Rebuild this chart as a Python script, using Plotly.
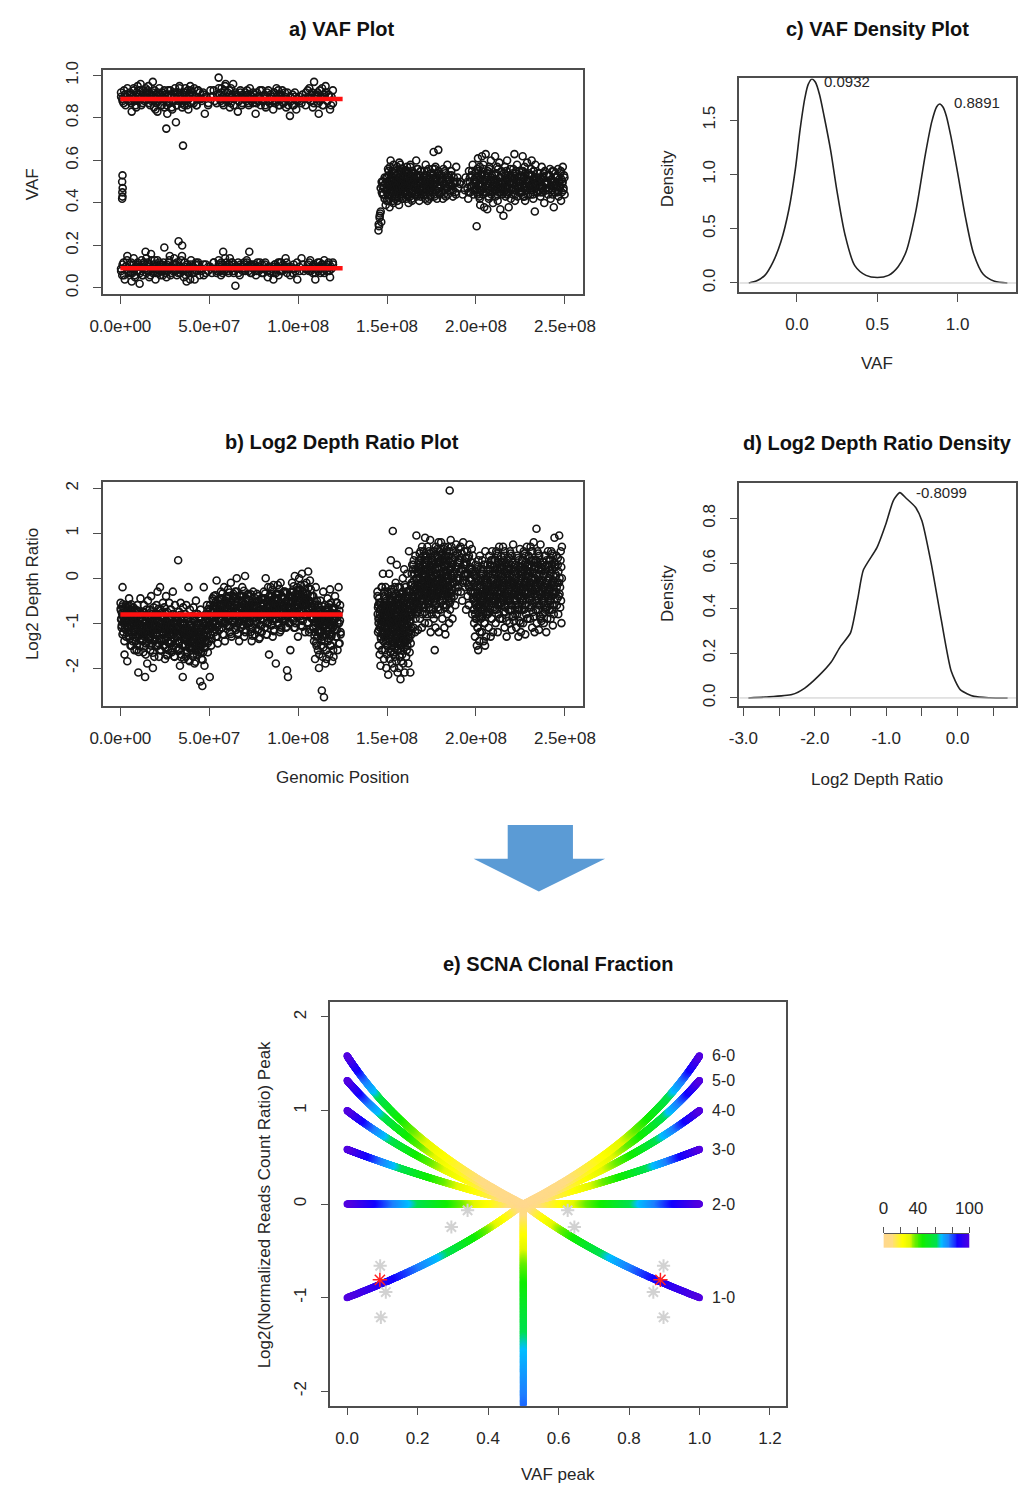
import numpy as np
import plotly.graph_objects as go

W, H = 1031, 1491
FONT = "Liberation Sans, Arial, Helvetica, sans-serif"
TXT = "#262626"

# ------------------------------------------------------------------ data
# a) VAF plot : VAF*100 values read per 5-Mb bin (two passes of reading)
VAF_BIN_MB = 5
VAF_UPPER_START_MB = 0
VAF_UPPER = [
    "92 89 87 91 90 94 88", "91 88 83 90 93 89 86 92 95", "89 93 96 90 87 92 88 94 91",
    "90 95 92 86 89 91 97 88 93 84", "91 83 88 94 90 86 92 89 85", "89 75 82 91 87 93 90 84 88",
    "90 94 78 86 92 88 95 91 89 85", "67 92 88 94 90 86 93 89 91 95 87", "91 88 94 90 86 93 89 92",
    "89 92 82 90 87", "93 90 88 91", "99 91 88 94 90 86 93 96 89", "92 88 85 94 90 96 89 91",
    "90 83 88 93 86 91 89", "92 88 91 86 94 89 90 87", "89 82 92 88 90 86 93",
    "88 91 85 90 93 87 89", "90 84 92 88 94 89 86 91", "89 93 87 90 85 92 88",
    "81 88 91 86 90 84 89", "90 87 89 92", "93 89 88 91 85 97 90", "89 92 82 88 90 94 86 91",
    "95 88 91 84 90 87",
]
VAF_UPPER_B = [
    "90 88 93 86 91 89", "92 87 90 94 88 85 91", "88 91 86 93 90 89 92", "93 87 90 88 92 85 89",
    "87 92 89 91 86 90 93", "91 86 93 88 90 85 92", "88 92 86 90 94 89 87", "90 86 92 88 84 91 93",
    "92 87 90 86 93 89", "88 91 90 86", "90 93 87", "94 89 92 87 90 95 88", "89 93 87 91 86 92",
    "91 88 92 87 90", "89 93 87 91 88 92", "91 87 90 93 88", "90 86 92 88 91", "88 92 87 90 93 86",
    "91 87 92 89 86", "90 86 92 88", "88 91 86", "90 94 88 92 87 91", "91 87 93 89 86 90",
    "92 88 90 86 93",
]
VAF_LOWER = [
    "9 6 12 4 10 15 8", "11 7 3 9 14 6 10 8 12", "10 2 8 13 6 11 9 17 7",
    "12 8 5 10 16 9 7 11 13 4", "9 13 7 11 6 10 8 12 19", "10 5 8 12 15 7 9 11",
    "14 8 11 6 10 22 9 7 13 20", "9 5 12 8 3 11 7 10 4 13", "7 10 4 12 8 11 6", "9 6 11 8",
    "10 7 12 9 8", "13 9 6 11 17 8 10 12", "10 7 14 9 12 8 11 1", "9 12 6 10 8 11",
    "8 13 10 17 7 11 9", "10 6 12 8 9 11", "7 11 9 5 10 8", "9 4 11 7 10 6 12",
    "12 8 10 14 7 9", "6 9 11 8 4", "10 14 8 9", "11 8 13 9 7 10 4", "9 12 10 7 11 8 13",
    "10 8 12 5 9 11",
]
VAF_LOWER_B = [
    "8 11 6 10 13 7", "9 12 7 11 5 10 8", "11 7 10 6 12 9 14", "8 11 6 13 9 10 7",
    "10 7 12 8 11 6 9", "7 11 9 13 6 10 8", "11 8 12 7 10 9 15", "8 12 6 10 9 7 11",
    "10 7 11 8 12 9", "8 11 7 10", "9 12 7", "11 8 12 7 10 14 9", "8 11 9 12 7 10",
    "10 7 11 9 12", "9 12 8 11 7 10", "11 8 10 12 7", "9 12 8 10 7", "10 7 11 9 12 8",
    "8 11 9 12 10", "10 7 9 12", "8 11 9", "9 12 8 10 11 7", "10 8 12 9 11 7", "9 11 8 10 12",
]
VAF_HET_START_MB = 145
VAF_HET = [
    "27 29 33 35 36 31 45 48 50 44 47 42 49 39 52 46",
    "50 44 56 41 48 53 38 47 51 60 45 49 43 55 52 46 40 58 49 47 54 42 50 44",
    "48 53 45 57 41 50 46 52 39 55 49 44 58 47 51 43 54 48 42 56 50 45 52 47 49",
    "51 46 55 42 49 57 44 52 48 40 54 47 50 43 58 45 53 49 41 55 46 51 48",
    "49 54 44 51 47 60 43 52 48 56 45 50 41 53 47 55 49 44 51 46",
    "47 52 44 55 49 42 58 50 46 53 41 48 56 45 51 49 43 54 47",
    "50 45 56 48 64 52 43 49 57 46 51 42 54 48 65 47 53 44 50",
    "48 53 45 51 42 56 49 46 54 43 50 47 58 44 52 49",
    "51 46 55 48 43 52 49 45 57 50 47",
    "49 44 52",
    "47 42 55 50 45 53 48 58 44 51 46 54",
    "50 29 56 45 61 48 52 43 57 39 49 54 46 62 51 44 58 47 38 53",
    "48 63 45 52 37 55 49 42 57 46 51 60 44 53 47 40 50",
    "51 46 62 43 54 48 57 41 50 45 59 52 37 47 55 49 44",
    "49 34 54 46 57 43 51 48 60 45 53 38 50 47 56 42 52",
    "47 52 44 56 49 63 41 54 46 51 58 43 50 48 55 45 53",
    "50 45 55 48 62 43 52 47 57 41 54 49 46 59 51 44 53 48",
    "48 53 44 56 60 46 51 42 55 49 36 58 47 52 45 50 54",
    "51 46 54 43 50 57 48 45 52 40 55 49 47 53",
    "49 44 53 47 56 42 51 46 55 48 38 50 45 52",
    "48 52 45 56 43 50 47 54 41 51 49 57 46 53 44",
]
VAF_HET_B = [
    "30 34 47 50 44 48 52 46 41",
    "52 47 44 55 49 42 57 46 51 48 53 45 50 41 56 49 47 54 43 51",
    "46 51 48 43 54 50 45 59 47 52 44 49 56 42 50 47 53 45 48 55",
    "49 44 52 47 55 50 43 48 53 46 51 57 45 49 42 54 48 50 46",
    "51 48 45 53 49 56 44 50 47 52 43 55 48 46",
    "50 46 53 48 44 51 55 47 49 42 52 46 50",
    "47 53 49 44 56 50 46 52 48 55 45 51",
    "52 46 50 44 55 48 51 47 53",
    "48 53 46 50 44 52",
    "50 46",
    "50 45 52 48 55 46 51 49",
    "47 52 44 55 49 42 51 46 53 48 56 45 50",
    "51 45 54 48 43 56 50 47 52 45 49",
    "48 53 46 51 44 56 49 45 52 50 47",
    "50 45 53 48 55 44 51 47 52 49 46",
    "49 54 46 51 44 55 48 52 47 50 45",
    "47 52 45 55 49 43 53 48 51 46 50 54",
    "50 46 53 48 44 55 51 47 49 52 45",
    "48 52 45 51 47 54 49 46 50",
    "50 46 53 48 51 44 55 47 49",
    "49 53 46 51 48 55 45 50 47 52",
]
VAF_EDGE_POS_MB = [1.0, 1.2, 1.1, 1.3, 1.0, 1.2]
VAF_EDGE_VAL = [0.42, 0.43, 0.45, 0.47, 0.50, 0.53]

LOH_SEGMENT_MB = [0, 125]
VAF_PEAKS = [0.0932, 0.8891]
DEPTH_PEAK = -0.8099

# b) log2 depth ratio (*100) read per bin (two passes of reading)
DEPTH_LEFT_START_MB = 0
DEPTH_LEFT_BIN_MB = 4
DEPTH_LEFT = [
    "-55 -72 -90 -105 -63 -20 -85 -120 -95 -70 -170 -110 -80 -60 -130 -98 -75 -185",
    "-80 -62 -110 -95 -45 -130 -70 -88 -150 -105 -58 -120 -90 -75 -140 -100 -65 -115 -85 -160",
    "-95 -120 -70 -140 -85 -160 -110 -60 -130 -100 -210 -75 -125 -90 -150 -115 -45 -135 -105 -80",
    "-110 -75 -140 -95 -165 -120 -60 -130 -100 -220 -85 -145 -115 -70 -125 -190 -105 -50 -135 -90",
    "-100 -130 -70 -115 -160 -90 -40 -120 -145 -80 -105 -200 -125 -65 -110 -175 -95 -135 -85 -150",
    "-90 -60 -125 -105 -30 -150 -80 -115 -175 -95 -135 -20 -110 -70 -160 -100 -140 -85 -120 -55",
    "-120 -85 -150 -65 -105 -180 -95 -135 -40 -115 -170 -75 -130 -100 -160 -90 -125 -55 -110 -145",
    "-105 -140 -70 -125 -165 -90 -115 -30 -150 -80 -135 -100 -175 -60 -120 -95 -155 -110 -85 -130",
    "-90 -130 40 -110 -160 -75 -140 -195 -100 -55 -125 -170 -85 -150 -115 -220 -65 -135 -105 -180",
    "-100 -150 -80 -125 -175 -60 -140 -110 -165 -90 -130 -20 -155 -115 -185 -70 -145 -105 -160 -120",
    "-110 -155 -85 -135 -175 -65 -145 -120 -190 -95 -160 -130 -50 -150 -105 -170 -140 -80 -125 -165",
    "-120 -160 -90 -140 -230 -70 -150 -110 -180 -135 -240 -100 -165 -125 -20 -145 -195 -85 -155 -115",
    "-95 -130 -60 -115 -165 -80 -140 -105 -220 -70 -125 -150 -90 -110 -45",
    "-70 -100 -40 -85 -120 -55 -95 -130 -65 -5 -110 -80 -145 -50 -90 -75 -115 -60",
    "-60 -90 -30 -75 -110 -45 -85 -125 -55 -100 -20 -70 -140 -95 -50 -80 -65 -105",
    "-55 -85 -25 -70 -105 -40 -90 -120 -60 -10 -75 -130 -50 -95 -65 -80 -35 -100",
    "-60 -95 -30 -75 -115 -45 0 -85 -125 -55 -100 -70 -140 -40 -90 -65 -110 -80",
    "-50 -85 -20 -70 -105 -40 -95 -130 -60 5 -80 -115 -45 -90 -65 -100 -75 -35",
    "-65 -100 -40 -85 -120 -55 -140 -75 -110 -30 -90 -60 -125 -80",
    "-60 -95 -35 -80 -115 -50 -135 -70 -105 -90 -45 -120 -75",
    "-55 -90 -30 -75 -110 -45 0 -85 -125 -65 -100 -20 -80 -170 -60",
    "-50 -85 -20 -70 -105 -40 -95 -130 -60 -15 -80 -115 -45 -90 -65 -190 -75 -35",
    "-45 -80 -15 -65 -100 -35 -90 -120 -55 -10 -75 -110 -40 -85 -60 -95 -70 -30",
    "-60 -95 -30 -75 -110 -50 -205 -85 -220 -65 -100 -40 -80 -160 -55",
    "-40 -70 -10 -55 -90 -30 -75 -110 -45 5 -65 -100 -35 -80 -50 -20 -60 -130",
    "-35 -65 0 -50 -85 -25 -70 -105 -40 10 -60 -95 -30 -75 -45 -15 -55 -120",
    "-45 -80 -10 -60 -100 -35 15 -70 -120 -50 -5 -85 -25 -65 -90 -40",
    "-70 -110 -40 -90 -140 -60 -120 -180 -80 -20 -100 -150 -50 -130 -95 -160 -75 -115 -200 -85",
    "-80 -120 -50 -100 -150 -70 -250 -130 -175 -90 -30 -110 -265 -140 -60 -105 -190 -85 -125 -160",
    "-75 -115 -45 -95 -140 -65 -125 -170 -85 -25 -105 -150 -55 -130 -90 -185 -70 -110 -160 -100",
    "-70 -105 -40 -90 -130 -55 -115 -160 -80 -20 -100 -145 -60 -125",
]
DEPTH_LEFT_B = [
    "-68 -92 -110 -78 -125 -58 -100 -84 -140 -72 -96 -115 -88 -66 -105",
    "-74 -98 -120 -86 -135 -62 -108 -92 -150 -80 -102 -126 -94 -70 -112",
    "-84 -108 -132 -96 -148 -72 -118 -102 -164 -90 -112 -138 -104 -80 -122",
    "-88 -112 -136 -100 -152 -76 -122 -106 -170 -94 -116 -142 -108 -84 -126",
    "-86 -110 -134 -98 -150 -74 -120 -104 -166 -92 -114 -140 -106 -82 -124",
    "-80 -104 -128 -92 -144 -68 -114 -98 -160 -86 -108 -134 -100 -76 -118",
    "-90 -114 -138 -102 -154 -78 -124 -108 -172 -96 -118 -144 -110 -86 -128",
    "-92 -116 -140 -104 -156 -80 -126 -110 -174 -98 -120 -146 -112 -88 -130",
    "-94 -118 -142 -106 -158 -82 -128 -112 -176 -100 -122 -148 -114 -90 -132",
    "-100 -124 -148 -112 -164 -88 -134 -118 -182 -106 -128 -154 -120 -96 -138",
    "-104 -128 -152 -116 -168 -92 -138 -122 -186 -110 -132 -158 -124 -100 -142",
    "-100 -124 -148 -112 -164 -88 -134 -118 -182 -106 -128 -154 -120 -96 -138",
    "-80 -104 -128 -92 -144 -68 -114 -98 -60 -86 -108 -134 -100 -76",
    "-50 -74 -98 -62 -114 -38 -84 -68 -130 -56 -78 -104 -70 -46 -88",
    "-46 -70 -94 -58 -110 -34 -80 -64 -126 -52 -74 -100 -66 -42 -84",
    "-44 -68 -92 -56 -108 -32 -78 -62 -124 -50 -72 -98 -64 -40 -82",
    "-42 -66 -90 -54 -106 -30 -76 -60 -122 -48 -70 -96 -62 -38 -80",
    "-40 -64 -88 -52 -104 -28 -74 -58 -120 -46 -68 -94 -60 -36 -78",
    "-48 -72 -96 -60 -112 -36 -82 -66 -128 -54 -76 -102 -68 -44 -86",
    "-52 -76 -100 -64 -116 -40 -86 -70 -132 -58 -80 -106 -72 -48",
    "-46 -70 -94 -58 -110 -34 -80 -64 -126 -52 -74 -100 -66 -42 -84",
    "-38 -62 -86 -50 -102 -26 -72 -56 -118 -44 -66 -92 -58 -34 -76",
    "-36 -60 -84 -48 -100 -24 -70 -54 -116 -42 -64 -90 -56 -32 -74",
    "-44 -68 -92 -56 -108 -32 -78 -62 -50 -72 -98 -64 -40",
    "-30 -54 -78 -42 -94 -18 -64 -48 -110 -36 -58 -84 -50 -26 -68",
    "-28 -52 -76 -40 -92 -16 -62 -46 -108 -34 -56 -82 -48 -24",
    "-34 -58 -82 -46 -98 -22 -68 -52 -114 -40 -62 -88 -54",
    "-64 -88 -112 -76 -128 -52 -98 -82 -144 -70 -92 -118 -84 -60 -102 -170",
    "-74 -98 -122 -86 -138 -62 -108 -92 -154 -80 -102 -128 -94 -70 -112 -180",
    "-70 -94 -118 -82 -134 -58 -104 -88 -150 -76 -98 -124 -90 -66 -108 -175",
    "-66 -90 -114 -78 -130 -54 -100 -84 -146 -72 -94 -120",
]
DEPTH_RIGHT_START_MB = 144.5
DEPTH_RIGHT_BIN_MB = 3.85
DEPTH_RIGHT = [
    "-30 -80 -120 -60 -100 -150 -45 -90 -170 -70 -110 -195 -55 -135 -85 -20 -160 -105 -65 -125 10 -95 -140 -75 -180",
    "-40 -90 -130 -60 -110 -160 -20 -80 -140 -200 -50 -100 -170 -70 -120 -30 -150 -85 -215 -110 -60 -135 10 -95 -180 -45 -125 -75 -165 -105 40",
    "-50 -100 -150 -30 -90 -140 -190 -70 -120 105 -60 -110 -170 -40 -95 -145 -200 -80 -125 -20 -175 -65 -115 -155 -10 -85 -135 -185 -55 -105 30 -160 -75 -130 -210 -45",
    "-60 -110 -160 -40 -90 -140 -200 -70 -120 -175 -20 -100 -150 -225 -80 -130 -55 -185 -105 -35 -145 -95 -170 -65 -125 0 -115 -190 -85 -155 -45 -135 20 -75 -210",
    "-50 -100 -140 -20 -80 -130 -175 -60 -110 -160 10 -90 -150 -40 -120 -70 -190 -105 -30 60 -135 -85 -165 -55 -115 -210 -95 -145 -15 -75 -125",
    "-10 -50 30 -80 -30 20 -60 -110 40 -20 -70 10 -40 -120 50 -90 0 -55 95 -25 -75 15 -45 -65 -115 25",
    "0 -40 40 -70 -20 30 -90 -50 60 -10 -30 20 -60 -110 70 -15 -80 10 -45 50 -25 -5 -65 35 -35 -100 90",
    "10 -30 50 -60 -10 30 -80 -40 70 0 -20 40 -50 -100 60 -5 -70 20 -35 85 -15 -120 25 -45 5 45 -25",
    "0 -40 40 -70 -20 30 -90 -50 60 -10 -160 20 -60 -110 70 -15 -80 10 -45 50 -25 -5 -65 35 -35 80 -120",
    "20 -20 60 -50 0 40 -70 -30 80 10 -10 50 -40 -90 30 -5 -60 15 -25 65 -15 -110 45 -35 25 -125 5",
    "10 -30 50 -60 -10 30 -80 -40 70 0 -20 40 -50 -100 60 195 -70 20 -35 85 -15 25 -45 5 45 -25 -90",
    "30 -10 60 -40 10 45 -60 -20 75 20 0 55 -30 35 -5 65 15",
    "40 0 70 -30 20 55 -50 -10 80 30 10 60 -20 45 5 -70",
    "30 -10 60 -40 10 45 -60 -20 75 20 0 -30 35 -5 65 -80 15 50",
    "-30 -70 10 -100 -50 -10 -130 -80 30 -40 -60 0 -90 -150 20 -20 -110 -45 -160 40 -65 -5 -140 -85 50",
    "-20 -60 20 -90 -40 0 -120 -70 40 -30 -50 10 -80 -140 30 -10 -100 -35 -150 60 -55 5 -130 -75 -25",
    "-10 -50 30 -80 -30 10 -110 -60 50 -20 -40 20 -70 -130 40 -5 -90 -25 60 -45 15 -120 -65 -15",
    "0 -40 40 -70 -20 20 -100 -50 60 -10 -30 30 -60 -120 50 5 -80 -15 70 -35 25 -90 -55",
    "10 -30 50 -60 -10 30 -90 -40 70 0 -20 40 -50 -110 60 15 -75 -5 -35 35 -130 -45 20",
    "0 -40 40 -70 -20 20 -100 -50 60 -10 -30 30 -60 -115 50 5 -85 -15 75 -35 25 -95",
    "-10 -50 30 -80 -30 10 -110 -60 50 -20 -40 20 -70 -130 40 -5 -95 -25 65 -45 15 -120",
    "0 -40 40 -70 -20 20 -100 -50 60 -10 -30 30 -60 -125 50 5 -80 -15 70 -35 25 -90",
    "10 -30 50 -60 -10 30 -90 -40 70 0 -20 40 -50 -110 60 15 -75 -5 80 -35 35 -120",
    "0 -40 40 -70 -20 110 -100 -50 60 -10 -30 30 -60 -115 50 5 -85 -15 75 -35 25 -95",
    "-10 -50 30 -80 -30 10 -100 -60 50 -20 -40 20 -70 -120 40 -5 -90 -25 60 -45",
    "0 -40 40 -70 -20 20 -90 -50 60 -10 -30 30 -60 -105 50 5 -80 -15 90 -35 25",
    "10 -30 50 -60 -10 30 -80 -40 95 0 -20 40 -50 -100 70",
]
DEPTH_RIGHT_B = [
    "-40 -65 -90 -115 -55 -80 -105 -130 -70 -95 -20 -120 -85 -60 -110",
    "-30 -55 -80 -105 -130 -45 -70 -95 -120 -150 -60 -85 -110 -140 -35 -75 -100 -125 -50 -90 -115 -65",
    "-25 -50 -75 -100 -125 -150 -40 -65 -90 -115 -140 -165 -55 -80 -105 -130 -35 -70 -95 -120 -145 -60 -85 -110",
    "-20 -45 -70 -95 -120 -145 -35 -60 -85 -110 -135 -160 -50 -75 -100 -125 -30 -65 -90 -115 -140 -55 -80 -105",
    "-15 -40 -65 -90 -115 -140 -30 -55 -80 -105 -130 -45 -70 -95 -120 -25 -60 -85 -110 -50",
    "10 -15 -40 -65 30 -5 -30 -55 -80 20 -25 -50 0 -35 -60 15",
    "35 10 -15 -40 55 25 0 -25 -50 45 15 -10 -35 -60 30 5 -20 -45 60 20 -5 -30 -75 40",
    "30 5 -20 -45 50 20 -5 -30 -55 40 10 -15 -40 -65 25 0 -25 -50 55 15 -10 -35 -80 35",
    "40 15 -10 -35 60 30 5 -20 -45 50 20 -5 -30 -55 35 10 -15 -40 65 25 0 -25 -70 45",
    "45 20 -5 -30 65 35 10 -15 -40 55 25 0 -25 -50 40 15 -10 -35 70 30 5 -20 -65 50",
    "40 15 -10 -35 60 30 5 -20 -45 50 20 -5 -30 -55 35 10 -15 -40 70 25 0 -25",
    "40 15 -10 50 25 0 -20 35",
    "45 20 -5 30 10",
    "35 10 -15 50 25 0 -30 20 -45",
    "-20 -45 -70 5 -30 -55 -90 15 -10 -40 -65 -110 25 -5 -35 -60 -85 -120",
    "-15 -40 -65 10 -25 -50 -85 20 -5 -35 -60 -100 30 0 -30 -55 -80",
    "-5 -30 -55 20 -15 -40 -75 30 5 -25 -50 -90 40 10 -20 -45",
    "25 0 -25 -50 40 10 -15 -40 -70 55 20 -5 -30 -60 35 -10 -35 -90 15 -20",
    "20 -5 -30 -55 35 5 -20 -45 -75 50 15 -10 -35 -65 30 -15 -40 -95 10",
    "25 0 -25 -50 45 10 -15 -40 -70 55 20 -5 -30 -60 35 -10 -35 -85 15 -20",
    "15 -10 -35 -60 30 0 -25 -50 -80 45 10 -15 -40 -70 25 -20 -45 -100 5",
    "25 0 -25 -50 40 10 -15 -40 -70 55 20 -5 -30 -60 35 -10 -35 -90 15 -20",
    "30 5 -20 -45 45 15 -10 -35 -65 60 25 0 -25 -55 40 -5 -30 -85 20",
    "25 0 -25 -50 40 10 -15 -40 -70 55 20 -5 -30 -60 35 -10 -35 -90 15",
    "20 -5 -30 -55 35 5 -20 -45 -75 50 15 -10 -35 -65 30 -15 -40",
    "25 0 -25 -50 40 10 -15 -40 -70 55 20 -5 -30 -60 35 -10 -35",
    "30 5 -20 -45 45 15 -10 -35 -65 60 25 0",
]

GENOME_TICKS = [0, 5e7, 1e8, 1.5e8, 2e8, 2.5e8]
GENOME_TICKTEXT = ["0.0e+00", "5.0e+07", "1.0e+08", "1.5e+08", "2.0e+08", "2.5e+08"]

# c) VAF density curve
VAF_DENS_X = [-0.30, -0.25, -0.20, -0.15, -0.10, -0.05, -0.01, 0.02, 0.05, 0.07, 0.0932,
              0.115, 0.14, 0.17, 0.21, 0.25, 0.30, 0.36, 0.43, 0.50, 0.57, 0.63, 0.68,
              0.74, 0.80, 0.84, 0.87, 0.8891, 0.91, 0.93, 0.96, 1.00, 1.05, 1.10, 1.16,
              1.23, 1.31]
VAF_DENS_Y = [0.0, 0.02, 0.07, 0.19, 0.38, 0.68, 1.05, 1.42, 1.71, 1.83, 1.88, 1.85,
              1.74, 1.53, 1.22, 0.84, 0.44, 0.16, 0.07, 0.05, 0.07, 0.15, 0.29, 0.66,
              1.19, 1.49, 1.625, 1.65, 1.62, 1.54, 1.34, 1.02, 0.60, 0.27, 0.08, 0.015, 0.0]

# d) log2 depth ratio density curve
DEPTH_DENS_X = [-2.93, -2.69, -2.32, -2.14, -1.95, -1.77, -1.64, -1.50, -1.40, -1.32,
                -1.13, -1.00, -0.90, -0.8099, -0.72, -0.59, -0.50, -0.37, -0.23, -0.09,
                0.04, 0.23, 0.45, 0.70]
DEPTH_DENS_Y = [0.0, 0.004, 0.015, 0.044, 0.097, 0.16, 0.23, 0.29, 0.44, 0.57, 0.67,
                0.78, 0.88, 0.915, 0.89, 0.85, 0.79, 0.60, 0.35, 0.12, 0.036, 0.007,
                0.001, 0.0]

# e) SCNA clonal fraction model
CN_STATES = [1, 2, 3, 4, 5, 6]
CN_LABELS = ["1-0", "2-0", "3-0", "4-0", "5-0", "6-0"]
CLONAL_FRACTION = np.linspace(0, 1, 501)
CAND_VAF = [0.094, 0.11, 0.096, 0.296, 0.342, 0.626, 0.645, 0.869, 0.898, 0.898]
CAND_LOG2 = [-0.66, -0.94, -1.21, -0.245, -0.067, -0.067, -0.245, -0.94, -0.66, -1.21]
COLORBAR_LEVELS = list(range(0, 101))
COLORBAR_TICKS = [0, 20, 40, 60, 80, 100]
COLORBAR_TICKTEXT = ["0", "", "40", "", "", "100"]

CLONAL_SCALE = [
    [0.00, "#FFD88E"], [0.10, "#FFDC84"], [0.16, "#FFEE40"], [0.22, "#FFFF00"],
    [0.30, "#E4F800"], [0.37, "#66EE00"], [0.45, "#10EE00"], [0.62, "#00E050"],
    [0.665, "#00BFFF"], [0.76, "#1E7FFF"], [0.86, "#1400FF"], [1.00, "#5000E0"],
]


# ------------------------------------------------------------------ helpers
def expand(bins, start_mb, width_mb):
    xs, ys = [], []
    for i, s in enumerate(bins):
        vals = [int(v) for v in s.split()]
        n = len(vals)
        for j, v in enumerate(vals):
            xs.append((start_mb + i * width_mb + (j + 0.5) * width_mb / n) * 1e6)
            ys.append(v / 100.0)
    return xs, ys


def dx(l, r):
    return [l / W, r / W]


def dy(t, b):
    return [1 - b / H, 1 - t / H]


fig = go.Figure()
PT = dict(symbol="circle-open", size=7, color="#141414", line=dict(width=1.6))

# ---- panel a
for bins, start in [(VAF_UPPER, VAF_UPPER_START_MB), (VAF_UPPER_B, VAF_UPPER_START_MB),
                    (VAF_LOWER, VAF_UPPER_START_MB), (VAF_LOWER_B, VAF_UPPER_START_MB),
                    (VAF_HET, VAF_HET_START_MB), (VAF_HET_B, VAF_HET_START_MB)]:
    xs, ys = expand(bins, start, VAF_BIN_MB)
    fig.add_trace(go.Scatter(x=xs, y=ys, mode="markers", marker=PT, xaxis="x", yaxis="y",
                             showlegend=False, hoverinfo="skip"))
fig.add_trace(go.Scatter(x=[p * 1e6 for p in VAF_EDGE_POS_MB], y=VAF_EDGE_VAL, mode="markers",
                         marker=PT, xaxis="x", yaxis="y", showlegend=False))
for pk in VAF_PEAKS:
    fig.add_trace(go.Scatter(x=[LOH_SEGMENT_MB[0] * 1e6, LOH_SEGMENT_MB[1] * 1e6], y=[pk, pk],
                             mode="lines", line=dict(color="#FF1010", width=4.5),
                             xaxis="x", yaxis="y", showlegend=False))

# ---- panel b
for bins, start, w in [(DEPTH_LEFT, DEPTH_LEFT_START_MB, DEPTH_LEFT_BIN_MB),
                       (DEPTH_LEFT_B, DEPTH_LEFT_START_MB, DEPTH_LEFT_BIN_MB),
                       (DEPTH_RIGHT, DEPTH_RIGHT_START_MB, DEPTH_RIGHT_BIN_MB),
                       (DEPTH_RIGHT_B, DEPTH_RIGHT_START_MB, DEPTH_RIGHT_BIN_MB)]:
    xs, ys = expand(bins, start, w)
    fig.add_trace(go.Scatter(x=xs, y=ys, mode="markers", marker=PT, xaxis="x2", yaxis="y2",
                             showlegend=False, hoverinfo="skip"))
fig.add_trace(go.Scatter(x=[LOH_SEGMENT_MB[0] * 1e6, LOH_SEGMENT_MB[1] * 1e6],
                         y=[DEPTH_PEAK, DEPTH_PEAK], mode="lines",
                         line=dict(color="#FF1010", width=4.5), xaxis="x2", yaxis="y2",
                         showlegend=False))

# ---- panel c / d density curves
fig.add_trace(go.Scatter(x=VAF_DENS_X, y=VAF_DENS_Y, mode="lines",
                         line=dict(color="#222", width=1.6, shape="spline", smoothing=0.8),
                         xaxis="x3", yaxis="y3", showlegend=False))
fig.add_trace(go.Scatter(x=DEPTH_DENS_X, y=DEPTH_DENS_Y, mode="lines",
                         line=dict(color="#222", width=1.6, shape="spline", smoothing=0.6),
                         xaxis="x4", yaxis="y4", showlegend=False))

# ---- panel e
c = CLONAL_FRACTION
cmark = dict(size=7, colorscale=CLONAL_SCALE, cmin=0, cmax=100, line=dict(width=0))
c0 = c[c <= 0.8]
fig.add_trace(go.Scatter(x=np.full(len(c0), 0.5), y=np.log2(1 - c0), mode="markers",
                         marker=dict(color=c0 * 100, **cmark), xaxis="x5", yaxis="y5",
                         showlegend=False, hoverinfo="skip"))
for n in CN_STATES:
    total = c * n + (1 - c) * 2
    yv = np.log2(total / 2)
    major = (c * n + (1 - c)) / total
    minor = (1 - c) / total
    for xv in (major, minor):
        fig.add_trace(go.Scatter(x=xv, y=yv, mode="markers", marker=dict(color=c * 100, **cmark),
                                 xaxis="x5", yaxis="y5", showlegend=False, hoverinfo="skip"))
fig.add_trace(go.Scatter(x=CAND_VAF, y=CAND_LOG2, mode="markers",
                         marker=dict(symbol="asterisk-open", size=11, color="#d2d2d2",
                                     line=dict(width=2, color="#d2d2d2")),
                         xaxis="x5", yaxis="y5", showlegend=False))
fig.add_trace(go.Scatter(x=VAF_PEAKS, y=[DEPTH_PEAK, DEPTH_PEAK], mode="markers",
                         marker=dict(symbol="asterisk-open", size=12, color="#FF2020",
                                     line=dict(width=1.5, color="#FF2020")),
                         xaxis="x5", yaxis="y5", showlegend=False))

# ---- colour key
fig.add_trace(go.Heatmap(z=[COLORBAR_LEVELS], x=COLORBAR_LEVELS, y=[0], colorscale=CLONAL_SCALE,
                         zmin=0, zmax=100, showscale=False, xaxis="x6", yaxis="y6",
                         hoverinfo="skip"))

# ------------------------------------------------------------------ layout
TF = dict(family=FONT, size=17, color=TXT)


def ax(domain, rng, anchor, **kw):
    d = dict(domain=domain, range=rng, anchor=anchor, showline=True, linecolor="#4d4d4d",
             linewidth=1.5, mirror=True, ticks="outside", ticklen=8, tickwidth=1.2,
             tickcolor="#4d4d4d", showgrid=False, zeroline=False, tickfont=TF,
             ticklabelstandoff=8)
    d.update(kw)
    return d


layout = dict(
    width=W, height=H, margin=dict(l=0, r=0, t=0, b=0), paper_bgcolor="white",
    plot_bgcolor="white", showlegend=False,
    xaxis=ax(dx(92, 585), [-1e7, 2.6e8], "y", tickvals=GENOME_TICKS, ticktext=GENOME_TICKTEXT),
    yaxis=ax(dy(62, 288), [-0.028, 1.028], "x", tickvals=[0, 0.2, 0.4, 0.6, 0.8, 1.0],
             ticktext=["0.0", "0.2", "0.4", "0.6", "0.8", "1.0"], tickangle=-90),
    xaxis2=ax(dx(92, 585), [-1e7, 2.6e8], "y2", tickvals=GENOME_TICKS, ticktext=GENOME_TICKTEXT),
    yaxis2=ax(dy(478, 703), [-2.84, 2.13], "x2", tickvals=[-2, -1, 0, 1, 2],
              ticktext=["-2", "-1", "0", "1", "2"], tickangle=-90),
    xaxis3=ax(dx(746, 1030), [-0.358, 1.364], "y3", tickvals=[0, 0.5, 1.0],
              ticktext=["0.0", "0.5", "1.0"]),
    yaxis3=ax(dy(71, 286), [-0.082, 1.885], "x3", tickvals=[0, 0.5, 1.0, 1.5],
              ticktext=["0.0", "0.5", "1.0", "1.5"], tickangle=-90),
    xaxis4=ax(dx(746, 1030), [-3.055, 0.818], "y4",
              tickvals=[-3, -2.5, -2, -1.5, -1, -0.5, 0, 0.5],
              ticktext=["-3.0", "", "-2.0", "", "-1.0", "", "0.0", ""]),
    yaxis4=ax(dy(479, 703), [-0.035, 0.956], "x4", tickvals=[0, 0.2, 0.4, 0.6, 0.8],
              ticktext=["0.0", "0.2", "0.4", "0.6", "0.8"], tickangle=-90),
    xaxis5=ax(dx(326, 794), [-0.047, 1.246], "y5", tickvals=[0, 0.2, 0.4, 0.6, 0.8, 1.0, 1.2],
              ticktext=["0.0", "0.2", "0.4", "0.6", "0.8", "1.0", "1.2"]),
    yaxis5=ax(dy(1001, 1408), [-2.154, 2.164], "x5", tickvals=[-2, -1, 0, 1, 2],
              ticktext=["-2", "-1", "0", "1", "2"], tickangle=-90),
    xaxis6=dict(domain=dx(894, 982), range=[0, 100], anchor="y6", side="top", showline=True,
                linecolor="#555", linewidth=1, mirror=False, ticks="outside", ticklen=6,
                tickcolor="#555", tickvals=COLORBAR_TICKS, ticktext=COLORBAR_TICKTEXT,
                showgrid=False, zeroline=False, tickfont=TF, ticklabelstandoff=6),
    yaxis6=dict(domain=dy(1235, 1249), range=[-0.5, 0.5], anchor="x6", visible=False),
)
fig.update_layout(**layout)


def ann(text, px, py, size=17, bold=False, angle=0, xanchor="center"):
    return dict(text=f"<b>{text}</b>" if bold else text, x=px / W, y=1 - py / H,
                xref="paper", yref="paper", showarrow=False, textangle=angle,
                xanchor=xanchor, yanchor="middle",
                font=dict(family=FONT, size=size, color="#111" if bold else TXT))


annotations = [
    ann("a) VAF Plot", 338, 21, 20, True),
    ann("c) VAF Density Plot", 888, 21, 20, True),
    ann("b) Log2 Depth Ratio Plot", 338, 437, 20, True),
    ann("d) Log2 Depth Ratio Density", 888, 438, 20, True),
    ann("e) SCNA Clonal Fraction", 560, 963, 20, True),
    ann("VAF", 20, 177, angle=-90),
    ann("Log2 Depth Ratio", 20, 590, angle=-90),
    ann("Genomic Position", 338, 775),
    ann("Density", 672, 172, angle=-90),
    ann("Density", 672, 590, angle=-90),
    ann("VAF", 887, 358),
    ann("Log2 Depth Ratio", 887, 777),
    ann("VAF peak", 560, 1477),
    ann("Log2(Normalized Reads Count Ratio) Peak", 258, 1206, angle=-90),
]
annotations += [
    dict(text=f"{VAF_PEAKS[0]:.4f}", x=VAF_PEAKS[0] + 0.06, y=1.86, xref="x3", yref="y3",
         showarrow=False, xanchor="left", font=dict(family=FONT, size=15, color=TXT)),
    dict(text=f"{VAF_PEAKS[1]:.4f}", x=VAF_PEAKS[1] + 0.075, y=1.665, xref="x3", yref="y3",
         showarrow=False, xanchor="left", font=dict(family=FONT, size=15, color=TXT)),
    dict(text=f"{DEPTH_PEAK:.4f}", x=DEPTH_PEAK + 0.2, y=0.915, xref="x4", yref="y4",
         showarrow=False, xanchor="left", font=dict(family=FONT, size=15, color=TXT)),
]
for n, lab in zip(CN_STATES, CN_LABELS):
    annotations.append(dict(text=lab, x=1.03, y=float(np.log2(n / 2)), xref="x5", yref="y5",
                            showarrow=False, xanchor="left",
                            font=dict(family=FONT, size=16, color=TXT)))
fig.update_layout(annotations=annotations)

shapes = [
    dict(type="line", xref="x3 domain", x0=0, x1=1, yref="y3", y0=0, y1=0,
         line=dict(color="#c8c8c8", width=1)),
    dict(type="line", xref="x4 domain", x0=0, x1=1, yref="y4", y0=0, y1=0,
         line=dict(color="#c8c8c8", width=1)),
]
arrow_px = [(508, 823), (575, 823), (575, 857), (608, 857), (540, 890), (473, 857), (508, 857)]
path = "M " + " L ".join(f"{x / W:.5f},{1 - y / H:.5f}" for x, y in arrow_px) + " Z"
shapes.append(dict(type="path", xref="paper", yref="paper", path=path,
                   fillcolor="#5B9BD5", line=dict(width=0)))
fig.update_layout(shapes=shapes)

fig.write_html("out.html")
